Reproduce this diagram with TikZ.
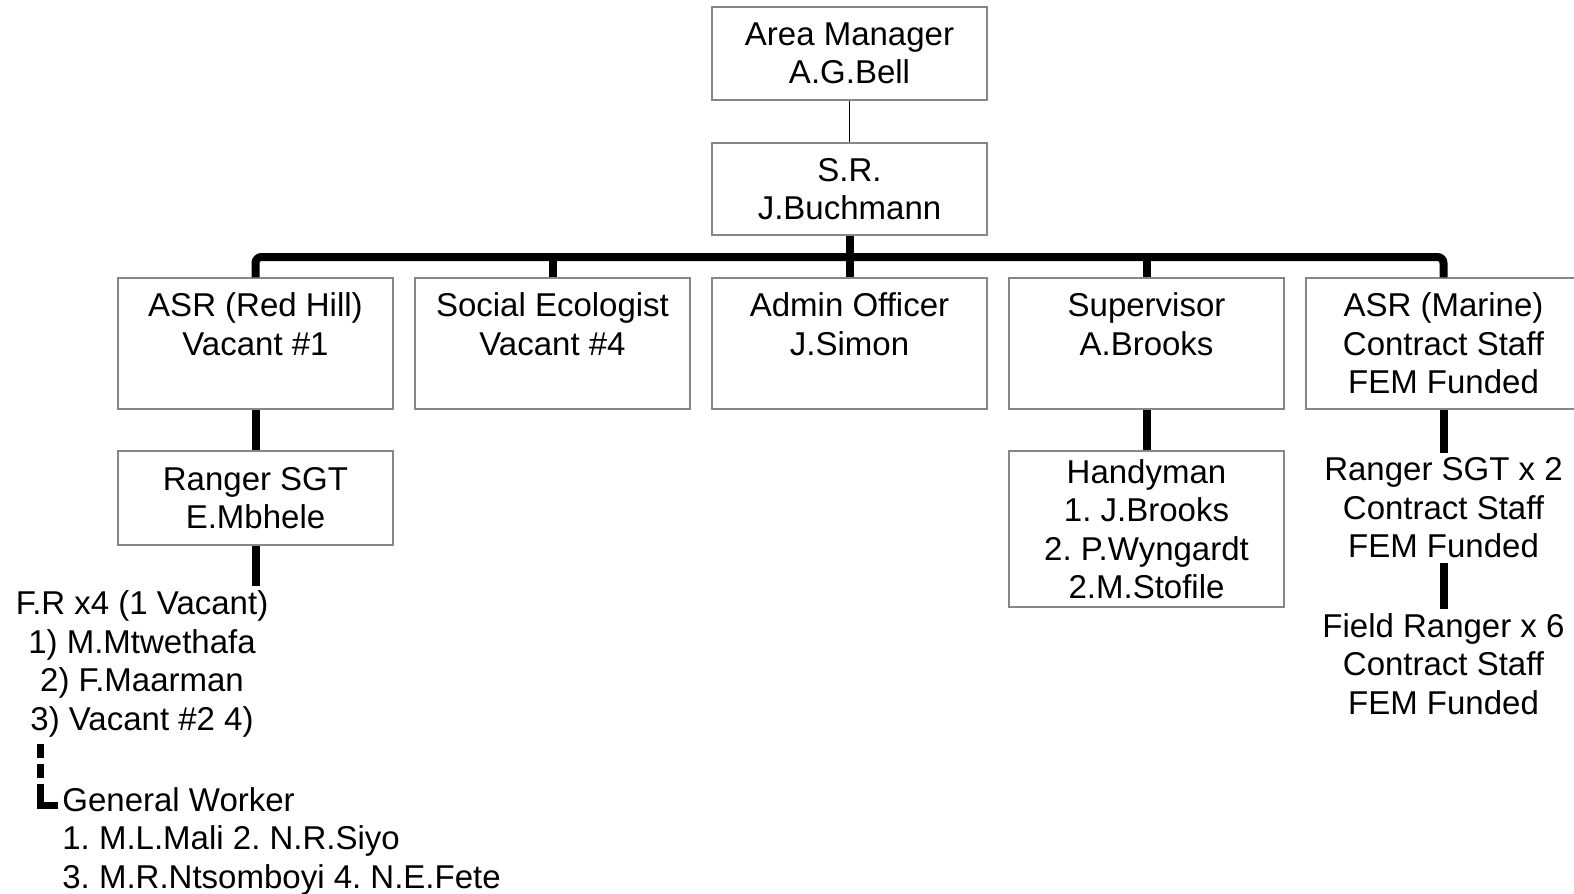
\documentclass[tikz,border=0pt]{standalone}
\usepackage{fontspec}
\setmainfont{Liberation Sans}
\usetikzlibrary{positioning}
\definecolor{boxgray}{RGB}{135,135,135}

\tikzset{
  post/.style={draw=boxgray, line width=0.75pt, fill=white, align=center,
    inner sep=0pt, minimum width=137.5pt},
  plain/.style={align=center, inner sep=2pt},
  bus/.style={line width=4pt},
  busdash/.style={line width=3.5pt, line join=miter,
    dash pattern=on 19.5pt off 3pt on 7pt off 3pt on 7pt off 3pt},
  thin/.style={line width=0.75pt}
}

\begin{document}
\begin{tikzpicture}[x=0.5pt, y=-0.5pt, font=\fontsize{16.5}{19.25}\selectfont\frenchspacing]

  \useasboundingbox (0,0) rectangle (1574,894);

  \newcommand\X{297};
  \newcommand\Y{343.5};

  %% top of the tree
  \node[post, minimum height=46.5pt] (am) at (255.5+2*\X, 53.5) {Area Manager\\A.G.Bell};
  \node[post, minimum height=46pt] (sr) at (255.5+2*\X, 189) {S.R.\\J.Buchmann};

  %% second row
  \node[post, minimum height=65.5pt] (asr) at (255.5+0*\X, \Y) {ASR (Red Hill)\\Vacant \#1\\\mbox{}};
  \node[post, minimum height=65.5pt] (eco) at (255.5+1*\X, \Y) {Social Ecologist\\Vacant \#4\\\mbox{}};
  \node[post, minimum height=65.5pt] (admin) at (255.5+2*\X, \Y) {Admin Officer\\J.Simon\\\mbox{}};
  \node[post, minimum height=65.5pt] (sup) at (255.5+3*\X, \Y) {Supervisor\\A.Brooks\\\mbox{}};
  \node[post, minimum height=65.5pt] (asrm) at (255.5+4*\X, \Y) {ASR (Marine)\\Contract Staff\\FEM Funded};

  %% third row
  \node[post, minimum height=47pt] (rsgt) at (255.5+0*\X, 498) {Ranger SGT\\E.Mbhele};
  \node[post, minimum height=78pt] (handy) at (255.5+3*\X, 529) {Handyman\\1. J.Brooks\\2. P.Wyngardt\\2.M.Stofile};
  \node[plain] (rsgtm) at (255.5+4*\X, 508) {Ranger SGT x 2\\Contract Staff\\FEM Funded};
  \node[plain] (frm) at (255.5+4*\X, 664) {Field Ranger x 6\\Contract Staff\\FEM Funded};

  %% field rangers and workers
  \node[plain] (fr) at (142, 664) {F.R x4 (1 Vacant)\\1) M.Mtwethafa\\ 2) F.Maarman\\3) Vacant \#2 4)};
  \node[plain, align=left, anchor=west] (gw) at (58, 841) {General Worker\\ 1. M.L.Mali 2. N.R.Siyo\\ 3. M.R.Ntsomboyi 4. N.E.Fete};
  \coordinate (gwcorner) at (40, 805);

  \draw[thin] (am) -- (sr);

  \coordinate (bar) at (255.5+2*\X, 257);
  \draw[bus, rounded corners=3pt] (asr.north) |- (bar) -| (asrm.north);
  \draw[bus] (sr.south) -- (admin.north);
  \draw[bus] (eco.north) -- (eco.north |- bar);
  \draw[bus] (sup.north) -- (sup.north |- bar);

  \draw[bus] (asr) -- (rsgt); %% ASR -> Ranger SGT
  \draw[bus] (rsgt.south) -- (rsgt.south |- fr.north);
  \draw[bus] (sup) -- (handy);
  \draw[bus] (asrm) -- (rsgtm);
  \draw[bus] (rsgtm) -- (frm);

  \draw[busdash] (gw.west |- gwcorner) -- (gwcorner) -- (fr.south -| gwcorner);
\end{tikzpicture}
\end{document}
